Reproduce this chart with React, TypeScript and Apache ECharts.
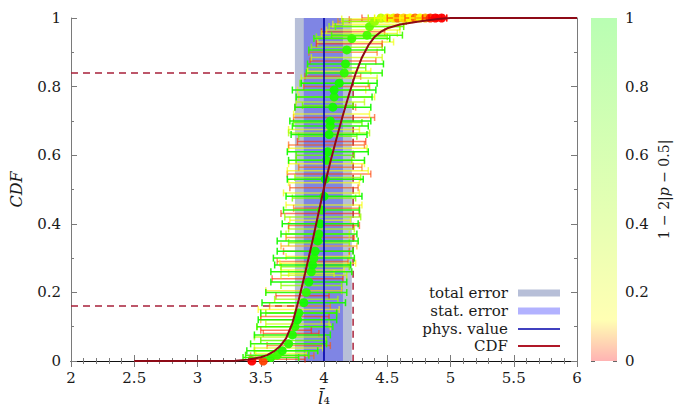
import React, { useEffect, useRef } from "react";
import * as echarts from "echarts";

// ---- data ----
const cdfX = [2.5, 3.0, 3.3, 3.4, 3.45, 3.5, 3.55, 3.6, 3.65, 3.7, 3.75, 3.8, 3.85, 3.9, 3.95, 4.0, 4.05, 4.1, 4.15, 4.2, 4.25, 4.3, 4.35, 4.4, 4.45, 4.5, 4.6, 4.75, 4.9, 5.0, 6.0];
const cdfY = [0, 0, 0.001, 0.004, 0.007, 0.011, 0.017, 0.027, 0.042, 0.066, 0.11, 0.178, 0.255, 0.335, 0.42, 0.505, 0.58, 0.65, 0.717, 0.78, 0.838, 0.885, 0.92, 0.945, 0.96, 0.97, 0.981, 0.99, 0.997, 1.0, 1.0];

const physValue = 4.0;
const totalErr = [3.77, 4.22];
const statErr = [3.84, 4.15];
const quantileLevels = [0.16, 0.84];
const quantileX = [3.79, 4.23];

// [x, y, half width, colour value 1-2|p-0.5|]
const mainPoints = [
  [3.43, 0.0, 0.02, 0.0], [3.52, 0.0, 0.02, 0.03],
  [3.58, 0.01, 0.22, 0.9], [3.63, 0.017, 0.25, 0.85], [3.67, 0.03, 0.28, 0.95],
  [3.72, 0.05, 0.3, 0.9], [3.75, 0.076, 0.3, 0.95], [3.77, 0.1, 0.3, 0.9],
  [3.79, 0.12, 0.31, 1.0], [3.8, 0.14, 0.3, 0.95], [3.84, 0.17, 0.33, 1.0],
  [3.86, 0.2, 0.32, 0.9], [3.88, 0.23, 0.3, 1.0], [3.9, 0.26, 0.32, 0.95],
  [3.91, 0.28, 0.3, 1.0], [3.92, 0.3, 0.32, 0.95], [3.93, 0.32, 0.3, 1.0],
  [3.95, 0.35, 0.32, 1.0], [3.96, 0.37, 0.3, 0.95], [3.97, 0.4, 0.3, 1.0],
  [3.98, 0.44, 0.3, 0.9], [4.0, 0.48, 0.3, 1.0], [4.01, 0.53, 0.3, 1.0],
  [4.02, 0.585, 0.3, 0.95], [4.03, 0.61, 0.32, 1.0], [4.04, 0.66, 0.3, 1.0],
  [4.05, 0.685, 0.3, 0.95], [4.05, 0.7, 0.32, 1.0], [4.07, 0.74, 0.3, 1.0],
  [4.08, 0.77, 0.3, 0.95], [4.08, 0.79, 0.33, 1.0], [4.12, 0.81, 0.3, 1.0],
  [4.16, 0.84, 0.3, 0.9], [4.17, 0.866, 0.3, 0.95], [4.18, 0.907, 0.3, 0.9],
  [4.22, 0.94, 0.3, 0.85], [4.34, 0.95, 0.28, 0.8], [4.36, 0.975, 0.27, 0.7],
  [4.4, 0.99, 0.25, 0.5],
  [4.45, 1.0, 0.1, 0.35], [4.5, 1.0, 0.1, 0.15], [4.55, 1.0, 0.1, 0.2],
  [4.58, 1.0, 0.08, 0.05], [4.63, 1.0, 0.08, 0.1], [4.68, 1.0, 0.08, 0.12],
  [4.72, 1.0, 0.08, 0.05], [4.76, 1.0, 0.08, 0.14], [4.8, 1.0, 0.08, 0.08],
  [4.84, 1.0, 0.06, 0.02], [4.88, 1.0, 0.05, 0.0], [4.93, 1.0, 0.04, 0.0],
];

const extraBars = [
  [3.63, 0.005, 0.22, 0.02], [3.67, 0.015, 0.25, 0.05], [3.7, 0.03, 0.25, 0.6],
  [3.8, 0.045, 0.25, 0.04], [3.76, 0.06, 0.26, 0.7], [3.74, 0.08, 0.22, 0.03],
  [3.76, 0.1, 0.29, 0.15], [3.74, 0.12, 0.24, 0.08], [3.82, 0.14, 0.28, 0.6],
  [3.81, 0.16, 0.24, 0.06], [3.83, 0.19, 0.21, 0.02], [3.9, 0.22, 0.24, 0.5],
  [3.9, 0.255, 0.18, 0.15], [3.91, 0.265, 0.25, 0.18], [3.93, 0.275, 0.27, 0.6],
  [3.91, 0.29, 0.28, 0.04], [3.95, 0.305, 0.25, 0.2], [3.94, 0.32, 0.26, 0.03],
  [3.96, 0.345, 0.24, 0.55], [3.97, 0.36, 0.27, 0.05], [3.98, 0.385, 0.26, 0.4],
  [3.97, 0.41, 0.24, 0.15], [3.97, 0.43, 0.31, 0.02], [4.0, 0.455, 0.3, 0.16],
  [4.0, 0.475, 0.25, 0.6], [4.0, 0.505, 0.27, 0.04], [4.0, 0.52, 0.28, 0.14],
  [4.04, 0.545, 0.33, 0.03], [4.03, 0.555, 0.32, 0.18], [4.05, 0.565, 0.25, 0.05],
  [4.0, 0.585, 0.22, 0.6], [4.01, 0.6, 0.23, 0.7], [4.03, 0.62, 0.31, 0.15],
  [4.02, 0.63, 0.3, 0.04], [4.03, 0.655, 0.23, 0.6], [4.0, 0.675, 0.28, 0.2],
  [4.03, 0.695, 0.27, 0.7], [4.08, 0.71, 0.32, 0.03], [4.01, 0.74, 0.24, 0.05],
  [4.03, 0.745, 0.2, 0.65], [4.1, 0.77, 0.3, 0.2], [4.06, 0.79, 0.27, 0.15],
  [4.08, 0.81, 0.27, 0.6], [4.07, 0.83, 0.22, 0.04], [4.1, 0.855, 0.23, 0.6],
  [4.15, 0.875, 0.26, 0.03], [4.15, 0.9, 0.27, 0.05], [4.18, 0.915, 0.28, 0.5],
  [4.25, 0.93, 0.3, 0.17], [4.22, 0.945, 0.28, 0.55], [4.23, 0.96, 0.25, 0.03],
  [4.31, 0.965, 0.29, 0.15], [4.32, 0.975, 0.28, 0.45], [4.38, 0.99, 0.27, 0.07],
  [4.45, 0.995, 0.25, 0.03], [4.6, 1.0, 0.3, 0.02], [4.75, 1.0, 0.22, 0.04],
  [3.66, 0.022, 0.2, 0.12], [3.72, 0.038, 0.27, 0.25], [3.73, 0.07, 0.28, 0.4],
  [3.7, 0.09, 0.2, 0.02], [3.79, 0.108, 0.25, 0.3], [3.77, 0.13, 0.27, 0.03],
  [3.8, 0.15, 0.32, 0.12], [3.86, 0.18, 0.25, 0.45], [3.84, 0.205, 0.3, 0.1],
  [3.87, 0.24, 0.28, 0.02], [3.92, 0.25, 0.26, 0.35], [3.95, 0.285, 0.3, 0.12],
  [3.96, 0.335, 0.3, 0.08], [3.95, 0.37, 0.25, 0.3], [4.0, 0.395, 0.28, 0.03],
  [3.99, 0.42, 0.3, 0.5], [4.02, 0.445, 0.26, 0.05], [3.98, 0.49, 0.3, 0.2],
  [4.03, 0.535, 0.26, 0.45], [4.02, 0.575, 0.3, 0.12], [4.06, 0.64, 0.27, 0.02],
  [4.04, 0.665, 0.32, 0.45], [4.06, 0.72, 0.3, 0.15], [4.05, 0.755, 0.27, 0.35],
  [4.1, 0.8, 0.26, 0.04], [4.12, 0.825, 0.3, 0.3], [4.12, 0.845, 0.25, 0.14],
  [4.18, 0.885, 0.28, 0.3], [4.2, 0.925, 0.26, 0.02], [4.28, 0.955, 0.3, 0.25],
  [4.35, 0.982, 0.28, 0.12], [4.4, 0.997, 0.26, 0.2],
];

const legendLabels = ["total error", "stat. error", "phys. value", "CDF"];
const colorbarMax = 1;

// ---- palette (red -> yellow -> green) ----
const paletteStops: [number, number[]][] = [
  [0, [255, 0, 0]],
  [0.12, [255, 255, 0]],
  [0.4, [175, 255, 0]],
  [1, [20, 250, 0]],
];
function pal(c: number, white = 0): string {
  let a = paletteStops[0], b = paletteStops[paletteStops.length - 1];
  for (let i = 0; i < paletteStops.length - 1; i++) {
    if (c >= paletteStops[i][0] && c <= paletteStops[i + 1][0]) {
      a = paletteStops[i];
      b = paletteStops[i + 1];
      break;
    }
  }
  const t = b[0] === a[0] ? 0 : (c - a[0]) / (b[0] - a[0]);
  const rgb = a[1].map((v, k) => v + (b[1][k] - v) * t).map((v) => Math.round(v * (1 - white) + 255 * white));
  return `rgb(${rgb[0]},${rgb[1]},${rgb[2]})`;
}

const FONT = "DejaVu Serif";
const TXT = "#1a1a1a";

function makeRender(dot: boolean) {
  return (params: any, api: any) => {
    const x = api.value(0), y = api.value(1), hw = api.value(2), c = api.value(3);
    const p0 = api.coord([x - hw, y]);
    const p1 = api.coord([x + hw, y]);
    const pc = api.coord([x, y]);
    const col = pal(c);
    const op = dot ? 0.95 : 0.6 + 0.35 * c;
    const st = { stroke: col, lineWidth: 1.5, opacity: op };
    const children: any[] = [];
    if (hw > 0.03) {
      children.push(
        { type: "line", shape: { x1: p0[0], y1: p0[1], x2: p1[0], y2: p1[1] }, style: st },
        { type: "line", shape: { x1: p0[0], y1: p0[1] - 3.5, x2: p0[0], y2: p0[1] + 3.5 }, style: st },
        { type: "line", shape: { x1: p1[0], y1: p1[1] - 3.5, x2: p1[0], y2: p1[1] + 3.5 }, style: st }
      );
    }
    if (dot) {
      children.push({ type: "circle", shape: { cx: pc[0], cy: pc[1], r: 4.5 }, style: { fill: col, opacity: 0.95 } });
    }
    return { type: "group", children };
  };
}

export default function App() {
  const ref = useRef<HTMLDivElement>(null);
  useEffect(() => {
    if (!ref.current) return;
    const chart = echarts.init(ref.current, undefined, { renderer: "svg" });

    const gridL = 65, gridT = 18, gridW = 512, gridH = 343;
    const legX = 508, legRows = [293, 311, 329, 346];
    const legendGraphics: any[] = [];
    legendLabels.forEach((lab, i) => {
      legendGraphics.push({
        type: "text",
        x: legX,
        y: legRows[i],
        style: { text: lab, fill: TXT, font: `15px "${FONT}"`, textAlign: "right", textVerticalAlign: "middle" },
      });
    });
    legendGraphics.push(
      { type: "rect", shape: { x: 518, y: legRows[0] - 3.5, width: 42, height: 7 }, style: { fill: "#b7bfd8" } },
      { type: "rect", shape: { x: 518, y: legRows[1] - 3.5, width: 42, height: 7 }, style: { fill: "rgba(0,0,255,0.3)" } },
      { type: "line", shape: { x1: 518, y1: legRows[2], x2: 560, y2: legRows[2] }, style: { stroke: "#0000aa", lineWidth: 1.5 } },
      { type: "line", shape: { x1: 518, y1: legRows[3], x2: 560, y2: legRows[3] }, style: { stroke: "#b01828", lineWidth: 1.8 } }
    );

    const axisLbl = { color: TXT, fontFamily: FONT, fontSize: 15 };
    const grey = "#7a7a7a";

    const option: any = {
      animation: false,
      backgroundColor: "#fff",
      grid: [
        { left: gridL, top: gridT, width: gridW, height: gridH },
        { left: 591, top: gridT, width: 26, height: gridH },
      ],
      xAxis: [
        {
          type: "value", gridIndex: 0, position: "bottom", min: 2, max: 6, interval: 0.5,
          axisLine: { lineStyle: { color: grey, width: 1 } },
          axisTick: { inside: true, length: 6, lineStyle: { color: grey } },
          minorTick: { show: true, splitNumber: 5, length: 3, lineStyle: { color: grey } },
          splitLine: { show: false },
          axisLabel: { ...axisLbl, margin: 9 },
          name: "{i|l\u0304}\u2084",
          nameLocation: "middle",
          nameGap: 25,
          nameTextStyle: { color: TXT, fontFamily: FONT, fontSize: 16, rich: { i: { fontStyle: "italic", fontFamily: FONT, fontSize: 17, color: TXT } } },
        },
        {
          type: "value", gridIndex: 0, position: "top", min: 2, max: 6, interval: 0.5,
          axisLine: { lineStyle: { color: "#111", width: 1.2 } },
          axisTick: { inside: true, length: 6, lineStyle: { color: grey } },
          minorTick: { show: true, splitNumber: 5, length: 3, lineStyle: { color: grey } },
          splitLine: { show: false },
          axisLabel: { show: false },
        },
        {
          type: "category", gridIndex: 1, data: [""], show: false,
        },
      ],
      yAxis: [
        {
          type: "value", gridIndex: 0, position: "left", min: 0, max: 1, interval: 0.2,
          axisLine: { show: true, lineStyle: { color: grey } },
          axisTick: { show: true, inside: true, length: 6, lineStyle: { color: grey } },
          minorTick: { show: true, splitNumber: 2, length: 3, lineStyle: { color: grey } },
          splitLine: { show: false },
          axisLabel: { ...axisLbl, margin: 10 },
          name: "CDF",
          nameLocation: "middle",
          nameGap: 47,
          nameTextStyle: { color: TXT, fontFamily: FONT, fontSize: 16, fontStyle: "italic" },
        },
        {
          type: "value", gridIndex: 0, position: "right", min: 0, max: 1, interval: 0.2,
          axisLine: { show: true, lineStyle: { color: grey } },
          axisTick: { show: true, inside: true, length: 6, lineStyle: { color: grey } },
          minorTick: { show: true, splitNumber: 2, length: 3, lineStyle: { color: grey } },
          splitLine: { show: false },
          axisLabel: { show: false },
        },
        {
          type: "value", gridIndex: 1, position: "left", min: 0, max: colorbarMax, interval: 0.2,
          axisLine: { show: false },
          axisTick: { show: true, inside: true, length: 4, lineStyle: { color: "#666" } },
          splitLine: { show: false },
          axisLabel: { show: false },
        },
        {
          type: "value", gridIndex: 1, position: "right", min: 0, max: colorbarMax, interval: 0.2,
          axisLine: { show: false },
          axisTick: { show: true, inside: true, length: 4, lineStyle: { color: "#666" } },
          splitLine: { show: false },
          axisLabel: { ...axisLbl, margin: 8 },
          name: "1 \u2212 2|{i|p} \u2212 0.5|",
          nameLocation: "middle",
          nameGap: 40,
          nameRotate: 90,
          nameTextStyle: { color: TXT, fontFamily: FONT, fontSize: 14, rich: { i: { fontStyle: "italic", fontFamily: FONT, fontSize: 14, color: TXT } } },
        },
      ],
      series: [
        ...quantileLevels.map((lvl, i) => ({
          type: "line", xAxisIndex: 0, yAxisIndex: 0, symbol: "none", silent: true, z: 1,
          lineStyle: { color: "#a8203a", width: 1.5, type: [7, 5] },
          data: [[2, lvl], [quantileX[i], lvl], [quantileX[i], 0]],
        })),
        {
          type: "line", name: "total error", xAxisIndex: 0, yAxisIndex: 0, data: [], silent: true, z: 2,
          markArea: {
            silent: true,
            z: 2,
            itemStyle: { color: "#b7bfd8" },
            data: [[{ xAxis: totalErr[0] }, { xAxis: totalErr[1] }]],
          },
        },
        {
          type: "line", name: "stat. error", xAxisIndex: 0, yAxisIndex: 0, data: [], silent: true, z: 2,
          markArea: {
            silent: true,
            z: 2,
            itemStyle: { color: "rgba(0,0,255,0.3)" },
            data: [[{ xAxis: statErr[0] }, { xAxis: statErr[1] }]],
          },
        },
        {
          type: "custom", xAxisIndex: 0, yAxisIndex: 0, silent: true, z: 4,
          renderItem: makeRender(false),
          encode: { x: 0, y: 1 },
          data: extraBars,
        },
        {
          type: "custom", xAxisIndex: 0, yAxisIndex: 0, silent: true, z: 5,
          renderItem: makeRender(true),
          encode: { x: 0, y: 1 },
          data: mainPoints,
        },
        {
          type: "line", name: "phys. value", xAxisIndex: 0, yAxisIndex: 0, symbol: "none", silent: true, z: 6,
          lineStyle: { color: "#0000aa", width: 1.6 },
          data: [[physValue, 0], [physValue, 1]],
        },
        {
          type: "line", name: "CDF", xAxisIndex: 0, yAxisIndex: 0, symbol: "none", silent: true, z: 7,
          smooth: false,
          lineStyle: { color: "#8e0a16", width: 2 },
          data: cdfX.map((x, i) => [x, cdfY[i]]),
        },
        {
          type: "bar", xAxisIndex: 2, yAxisIndex: 3, barWidth: "100%", silent: true,
          itemStyle: {
            color: new echarts.graphic.LinearGradient(0, 0, 0, 1, [
              { offset: 0, color: pal(1, 0.7) },
              { offset: 0.6, color: pal(0.4, 0.7) },
              { offset: 0.88, color: pal(0.12, 0.7) },
              { offset: 1, color: pal(0, 0.7) },
            ]),
          },
          data: [colorbarMax],
        },
      ],
      graphic: legendGraphics,
    };
    chart.setOption(option);
    return () => chart.dispose();
  }, []);
  return <div ref={ref} style={{ width: 693, height: 416, position: "absolute", left: 0, top: 0 }} />;
}
